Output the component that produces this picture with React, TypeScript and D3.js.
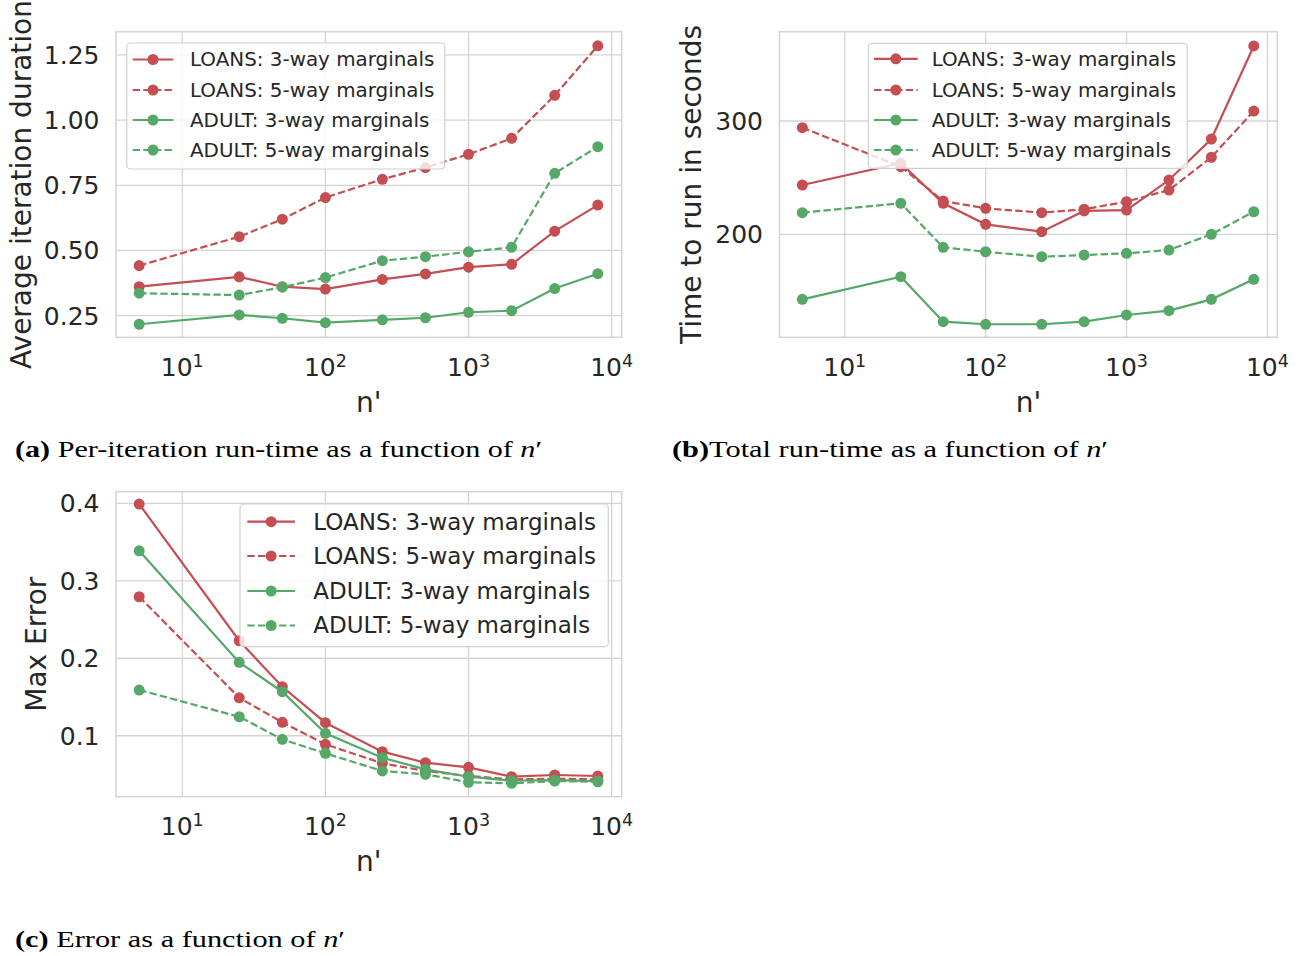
import React from "react";
import * as d3 from "d3";

// ---------- data ----------
const nValues = [5, 25, 50, 100, 250, 500, 1000, 2000, 4000, 8000];

const seriesLabels = [
  "LOANS: 3-way marginals",
  "LOANS: 5-way marginals",
  "ADULT: 3-way marginals",
  "ADULT: 5-way marginals",
];
const seriesColors = ["#C44E52", "#C44E52", "#55A868", "#55A868"];
const seriesDashed = [false, true, false, true];

const iterLoans3 = [0.361, 0.399, 0.361, 0.352, 0.389, 0.41, 0.436, 0.447, 0.574, 0.674];
const iterLoans5 = [0.442, 0.553, 0.62, 0.703, 0.773, 0.818, 0.869, 0.93, 1.095, 1.285];
const iterAdult3 = [0.217, 0.253, 0.24, 0.223, 0.234, 0.242, 0.263, 0.269, 0.354, 0.411];
const iterAdult5 = [0.336, 0.329, 0.359, 0.396, 0.461, 0.476, 0.495, 0.512, 0.796, 0.898];

const totalLoans3 = [243.5, 262.7, 227.4, 208.8, 202.3, 220.6, 221.4, 247.9, 284.1, 366.2];
const totalLoans5 = [294.1, 259.7, 229.4, 222.9, 219.1, 222.1, 228.8, 239.1, 268.0, 308.8];
const totalAdult3 = [142.6, 162.6, 122.9, 120.6, 120.6, 122.9, 128.8, 132.6, 142.6, 160.3];
const totalAdult5 = [219.1, 227.4, 188.5, 184.6, 180.2, 181.7, 183.2, 186.1, 200.0, 219.9];

const errLoans3 = [0.399, 0.2226, 0.1632, 0.1168, 0.0794, 0.0652, 0.0592, 0.0471, 0.0493, 0.048];
const errLoans5 = [0.2794, 0.149, 0.1173, 0.0889, 0.0644, 0.0545, 0.048, 0.0437, 0.0445, 0.0437];
const errAdult3 = [0.3387, 0.1947, 0.1568, 0.1031, 0.0716, 0.0566, 0.0471, 0.0419, 0.0428, 0.0415];
const errAdult5 = [0.159, 0.1245, 0.0953, 0.0773, 0.0545, 0.0502, 0.0399, 0.0386, 0.0415, 0.0406];

const xTickValues = [10, 100, 1000, 10000];
const xTickExponents = ["1", "2", "3", "4"];
const iterYTicks = [0.25, 0.5, 0.75, 1.0, 1.25];
const iterYTickLabels = ["0.25", "0.50", "0.75", "1.00", "1.25"];
const totalYTicks = [200, 300];
const totalYTickLabels = ["200", "300"];
const errYTicks = [0.1, 0.2, 0.3, 0.4];
const errYTickLabels = ["0.1", "0.2", "0.3", "0.4"];

// ---------- styling ----------
const GRID = "#d4d4d4";
const TEXT = "#262626";
const SANS = "'DejaVu Sans', sans-serif";
const SERIF = "'Liberation Serif', 'Times New Roman', serif";
const X_DOMAIN: [number, number] = [Math.pow(10, 0.537), Math.pow(10, 4.07)];

type Panel = {
  left: number;
  right: number;
  top: number;
  bottom: number;
  yDomain: [number, number];
  yTicks: number[];
  yTickLabels: string[];
  yLabel: string;
  yLabelX: number;
  series: number[][];
  legend: { x: number; y: number; w: number; h: number; rows: number[]; fs: number; hx1: number; hx2: number; tx: number };
  caption: { bold: string; rest: string; x: number; y: number; len: number };
};

const panels: Panel[] = [
  {
    left: 116, right: 621.7, top: 31.7, bottom: 337.3,
    yDomain: [0.167, 1.339],
    yTicks: iterYTicks, yTickLabels: iterYTickLabels,
    yLabel: "Average iteration duration", yLabelX: 31,
    series: [iterLoans3, iterLoans5, iterAdult3, iterAdult5],
    legend: { x: 126.7, y: 43, w: 318, h: 126, rows: [59.5, 90, 120, 150], fs: 19.9, hx1: 132.7, hx2: 173.3, tx: 190 },
    caption: { bold: "(a)", rest: " Per-iteration run-time as a function of ", x: 15, y: 457, len: 527 },
  },
  {
    left: 779.5, right: 1277.3, top: 31.7, bottom: 337.3,
    yDomain: [109.1, 378.8],
    yTicks: totalYTicks, yTickLabels: totalYTickLabels,
    yLabel: "Time to run in seconds", yLabelX: 701,
    series: [totalLoans3, totalLoans5, totalAdult3, totalAdult5],
    legend: { x: 868.3, y: 43.3, w: 319, h: 125, rows: [58.8, 90, 120, 150], fs: 19.9, hx1: 874, hx2: 917.7, tx: 931.7 },
    caption: { bold: "(b)", rest: "Total run-time as a function of ", x: 672, y: 457, len: 436 },
  },
  {
    left: 116, right: 621.7, top: 491.7, bottom: 796.7,
    yDomain: [0.0213, 0.415],
    yTicks: errYTicks, yTickLabels: errYTickLabels,
    yLabel: "Max Error", yLabelX: 46,
    series: [errLoans3, errLoans5, errAdult3, errAdult5],
    legend: { x: 240, y: 504, w: 368.3, h: 142.7, rows: [521.7, 556, 591, 625.5], fs: 23, hx1: 247.3, hx2: 295, tx: 313.3 },
    caption: { bold: "(c)", rest: " Error as a function of ", x: 15, y: 947, len: 330 },
  },
];

function PanelView({ p }: { p: Panel }) {
  const x = d3.scaleLog().domain(X_DOMAIN).range([p.left, p.right]);
  const y = d3.scaleLinear().domain(p.yDomain).range([p.bottom, p.top]);
  const line = d3
    .line<number>()
    .x((_, i) => x(nValues[i]))
    .y((d) => y(d));
  const clipId = `clip-${Math.round(p.left)}-${Math.round(p.top)}`;
  const L = p.legend;
  const midY = (p.top + p.bottom) / 2;
  const midX = (p.left + p.right) / 2;
  return (
    <g>
      <defs>
        <clipPath id={clipId}>
          <rect x={p.left - 6} y={p.top - 6} width={p.right - p.left + 12} height={p.bottom - p.top + 12} />
        </clipPath>
      </defs>
      {/* grid */}
      {xTickValues.map((t) => (
        <line key={"gx" + t} x1={x(t)} x2={x(t)} y1={p.top} y2={p.bottom} stroke={GRID} strokeWidth={1.3} />
      ))}
      {p.yTicks.map((t) => (
        <line key={"gy" + t} x1={p.left} x2={p.right} y1={y(t)} y2={y(t)} stroke={GRID} strokeWidth={1.3} />
      ))}
      <rect x={p.left} y={p.top} width={p.right - p.left} height={p.bottom - p.top} fill="none" stroke={GRID} strokeWidth={1.5} />
      {/* tick labels */}
      {xTickValues.map((t, i) => (
        <text key={"tx" + t} x={x(t)} y={p.bottom + 38.7} textAnchor="middle" fontFamily={SANS} fontSize={25} fill={TEXT}>
          10
          <tspan fontSize={17.5} dy={-9.5}>{xTickExponents[i]}</tspan>
        </text>
      ))}
      {p.yTicks.map((t, i) => (
        <text key={"ty" + t} x={p.left - 16.5} y={y(t) + 9} textAnchor="end" fontFamily={SANS} fontSize={25} fill={TEXT}>
          {p.yTickLabels[i]}
        </text>
      ))}
      {/* axis labels */}
      <text x={midX} y={p.bottom + 74.7} textAnchor="middle" fontFamily={SANS} fontSize={28} fill={TEXT}>
        n'
      </text>
      <text
        transform={`translate(${p.yLabelX},${midY}) rotate(-90)`}
        textAnchor="middle"
        fontFamily={SANS}
        fontSize={28}
        fill={TEXT}
      >
        {p.yLabel}
      </text>
      {/* series */}
      <g clipPath={`url(#${clipId})`}>
        {p.series.map((s, si) => (
          <g key={"s" + si}>
            <path
              d={line(s) || ""}
              fill="none"
              stroke={seriesColors[si]}
              strokeWidth={2.2}
              strokeDasharray={seriesDashed[si] ? "7.4,3.2" : undefined}
            />
            {s.map((v, i) => (
              <circle key={i} cx={x(nValues[i])} cy={y(v)} r={5.5} fill={seriesColors[si]} />
            ))}
          </g>
        ))}
      </g>
      {/* legend */}
      <rect x={L.x} y={L.y} width={L.w} height={L.h} rx={4} ry={4} fill="#ffffff" fillOpacity={0.8} stroke="#d0d0d0" strokeWidth={1.2} />
      {seriesLabels.map((lab, i) => (
        <g key={"l" + i}>
          <line
            x1={L.hx1}
            x2={L.hx2}
            y1={L.rows[i]}
            y2={L.rows[i]}
            stroke={seriesColors[i]}
            strokeWidth={2.2}
            strokeDasharray={seriesDashed[i] ? "7.4,3.2" : undefined}
          />
          <circle cx={(L.hx1 + L.hx2) / 2} cy={L.rows[i]} r={5.5} fill={seriesColors[i]} />
          <text x={L.tx} y={L.rows[i] + L.fs * 0.34} fontFamily={SANS} fontSize={L.fs} fill={TEXT}>
            {lab}
          </text>
        </g>
      ))}
      {/* caption */}
      <text
        x={p.caption.x}
        y={p.caption.y}
        fontFamily={SERIF}
        fontSize={24}
        fill="#000"
        textLength={p.caption.len}
        lengthAdjust="spacingAndGlyphs"
      >
        <tspan fontWeight="bold">{p.caption.bold}</tspan>
        <tspan>{p.caption.rest}</tspan>
        <tspan fontStyle="italic">n</tspan>
        <tspan>′</tspan>
      </text>
    </g>
  );
}

export default function App() {
  return (
    <svg
      width={1305}
      height={956}
      style={{ position: "absolute", left: 0, top: 0, background: "#fff" }}
    >
      <rect x={0} y={0} width={1305} height={956} fill="#fff" />
      {panels.map((p, i) => (
        <PanelView key={i} p={p} />
      ))}
    </svg>
  );
}
